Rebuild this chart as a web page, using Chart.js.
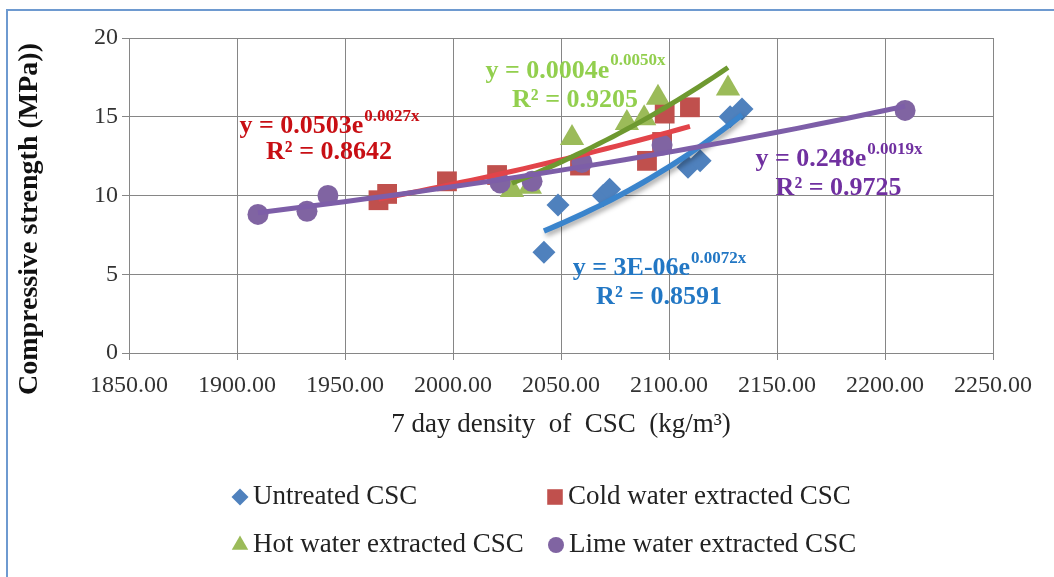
<!DOCTYPE html>
<html>
<head>
<meta charset="utf-8">
<title>Compressive strength vs 7 day density of CSC</title>
<script src="https://cdn.jsdelivr.net/npm/chart.js@4.4.1/dist/chart.umd.min.js"></script>
<style>
  html, body { margin: 0; padding: 0; background: #fff; }
  #wrap { position: relative; width: 1054px; height: 577px; overflow: hidden; background: #fff; }
  #frame { position: absolute; left: 6px; top: 9px; width: 1100px; height: 640px; border: 2px solid #6e9ad0; }
  #chart { position: absolute; left: 0; top: 0; }
</style>
</head>
<body>
<div id="wrap">
  <div id="frame"></div>
  <canvas id="chart" width="1054" height="577"></canvas>
</div>
<script>
// 7 day density (kg/m3) and compressive strength (MPa) per CSC treatment
const untreatedX = [2042.1, 2048.6, 2069.5, 2072.5, 2108.8, 2114.4, 2128.3, 2133.8];
const untreatedY = [6.4, 9.4, 10.0, 10.4, 11.8, 12.2, 15.0, 15.5];

const coldX = [1965.5, 1969.5, 1997.2, 2020.4, 2058.8, 2089.8, 2096.8, 2098.0, 2109.7];
const coldY = [9.7, 10.1, 10.9, 11.3, 11.9, 12.2, 13.4, 15.2, 15.6];

const hotX = [2027.3, 2035.6, 2055.1, 2080.5, 2088.5, 2094.9, 2127.3];
const hotY = [10.35, 10.55, 13.65, 14.6, 14.9, 16.2, 16.8];

const limeX = [1909.7, 1932.4, 1942.1, 2021.8, 2036.6, 2059.7, 2096.8, 2209.3];
const limeY = [8.8, 9.0, 10.0, 10.8, 10.9, 12.1, 13.2, 15.4];

const seriesNames = ['Untreated CSC', 'Cold water extracted CSC', 'Hot water extracted CSC', 'Lime water extracted CSC'];

// trendline equations as printed next to each fit
const eqBase = ['y = 3E-06e', 'y = 0.0503e', 'y = 0.0004e', 'y = 0.248e'];
const eqPower = ['0.0072x', '0.0027x', '0.0050x', '0.0019x'];
const eqR2 = ['R² = 0.8591', 'R² = 0.8642', 'R² = 0.9205', 'R² = 0.9725'];

const xTicksMin = 1850, xTicksMax = 2250, xStep = 50;
const yTicksMin = 0, yTicksMax = 20, yStep = 5;

const xTitle = '7 day density  of  CSC  (kg/m³)';
const yTitle = 'Compressive strength (MPa))';

const markerColors = ['#4f81bd', '#c0504d', '#9bbb59', '#8064a2'];
const trendColors = ['#3a84cc', '#e2444a', '#6e9930', '#7d5ea8'];
const eqColors = ['#2277c4', '#c80f14', '#92cf4e', '#7030a0'];
const markerStyles = ['rectRot', 'rect', 'triangle', 'circle'];
const markerSizes = [11.5, 14, 14, 10.5];
const legendSizes = [8.5, 11, 9.5, 8];

// where each equation block sits (data coords: centre x, line 1 y, line 2 y)
const eqPlace = [
  { x: 2095.4, y1: 5.35, y2: 3.55 },
  { x: 1942.6, y1: 14.4, y2: 12.75 },
  { x: 2056.5, y1: 17.9, y2: 16.05 },
  { x: 2178.5, y1: 12.3, y2: 10.45 }
];

function toPoints(xs, ys) {
  return xs.map((x, i) => ({ x: x, y: ys[i] }));
}

// least squares fit of ln(y) = ln(a) + b x, sampled across the series range
function expTrend(xs, ys) {
  const n = xs.length;
  const ly = ys.map(Math.log);
  const mx = xs.reduce((s, v) => s + v, 0) / n;
  const my = ly.reduce((s, v) => s + v, 0) / n;
  let sxy = 0, sxx = 0;
  for (let i = 0; i < n; i++) {
    sxy += (xs[i] - mx) * (ly[i] - my);
    sxx += (xs[i] - mx) * (xs[i] - mx);
  }
  const b = sxy / sxx;
  const a = Math.exp(my - b * mx);
  const lo = Math.min(...xs), hi = Math.max(...xs);
  const pts = [];
  for (let i = 0; i <= 30; i++) {
    const x = lo + (hi - lo) * i / 30;
    pts.push({ x: x, y: a * Math.exp(b * x) });
  }
  return pts;
}

const allX = [untreatedX, coldX, hotX, limeX];
const allY = [untreatedY, coldY, hotY, limeY];

const datasets = [];
allX.forEach((xs, i) => {
  datasets.push({
    label: seriesNames[i],
    data: toPoints(xs, allY[i]),
    showLine: false,
    pointStyle: markerStyles[i],
    pointRadius: markerSizes[i],
    pointBackgroundColor: markerColors[i],
    pointBorderWidth: 0,
    order: 8 - i
  });
});
allX.forEach((xs, i) => {
  datasets.push({
    label: seriesNames[i] + ' trend',
    data: expTrend(xs, allY[i]),
    showLine: true,
    borderColor: trendColors[i],
    borderWidth: i === 0 ? 5.5 : 5,
    pointRadius: 0,
    fill: false,
    shadow: i === 0,
    order: 4 - i
  });
});

const gridGrey = '#868686';
const tickFont = { family: 'Liberation Serif', size: 24 };

// soft drop shadow under the untreated trendline
const lineShadow = {
  id: 'lineShadow',
  beforeDatasetDraw(chart, args) {
    if (!chart.data.datasets[args.index].shadow) return;
    const c = chart.ctx;
    c.save();
    c.shadowColor = 'rgba(0,0,0,0.35)';
    c.shadowBlur = 5;
    c.shadowOffsetX = 2;
    c.shadowOffsetY = 3;
  },
  afterDatasetDraw(chart, args) {
    if (chart.data.datasets[args.index].shadow) chart.ctx.restore();
  }
};

// equation + R² text beside each fit
const equations = {
  id: 'equations',
  afterDatasetsDraw(chart) {
    const { ctx, scales } = chart;
    const big = 'bold 26px "Liberation Serif"';
    const small = 'bold 17px "Liberation Serif"';
    ctx.save();
    ctx.textBaseline = 'middle';
    eqPlace.forEach((p, i) => {
      const cx = scales.x.getPixelForValue(p.x);
      const y1 = scales.y.getPixelForValue(p.y1);
      const y2 = scales.y.getPixelForValue(p.y2);
      ctx.fillStyle = eqColors[i];
      ctx.font = big;
      const wBase = ctx.measureText(eqBase[i]).width;
      ctx.font = small;
      const wPow = ctx.measureText(eqPower[i]).width;
      const left = cx - (wBase + wPow) / 2;
      ctx.textAlign = 'left';
      ctx.font = big;
      ctx.fillText(eqBase[i], left, y1);
      ctx.font = small;
      ctx.fillText(eqPower[i], left + wBase + 1, y1 - 10);
      ctx.font = big;
      ctx.textAlign = 'center';
      ctx.fillText(eqR2[i], cx, y2);
    });
    ctx.restore();
  }
};

// rotated value-axis title, two-by-two legend under the axis title
const legendSpots = [
  { x: 240, y: 497 }, { x: 555, y: 497 },
  { x: 240, y: 545 }, { x: 556, y: 545 }
];
const frameText = {
  id: 'frameText',
  afterDraw(chart) {
    const ctx = chart.ctx;
    ctx.save();
    ctx.translate(30, 219);
    ctx.rotate(-Math.PI / 2);
    ctx.font = 'bold 28px "Liberation Serif"';
    ctx.fillStyle = '#111';
    ctx.textAlign = 'center';
    ctx.textBaseline = 'middle';
    ctx.fillText(yTitle, 0, 0);
    ctx.restore();

    ctx.save();
    ctx.font = '27px "Liberation Serif"';
    ctx.textBaseline = 'middle';
    ctx.textAlign = 'left';
    seriesNames.forEach((name, i) => {
      const s = legendSpots[i];
      ctx.fillStyle = markerColors[i];
      ctx.strokeStyle = markerColors[i];
      Chart.helpers.drawPoint(ctx, { pointStyle: markerStyles[i], radius: legendSizes[i], rotation: 0, borderWidth: 0 }, s.x, s.y);
      ctx.fillStyle = '#222';
      ctx.fillText(name, s.x + 13, s.y);
    });
    ctx.restore();
  }
};

new Chart(document.getElementById('chart'), {
  type: 'scatter',
  data: { datasets: datasets },
  options: {
    responsive: false,
    animation: false,
    events: [],
    layout: { padding: { left: 0, top: 38, right: 61, bottom: 134 } },
    plugins: { legend: { display: false }, tooltip: { enabled: false } },
    scales: {
      x: {
        type: 'linear',
        min: xTicksMin,
        max: xTicksMax,
        afterFit: s => { s.height = 90; },
        ticks: { stepSize: xStep, autoSkip: false, maxRotation: 0, padding: 11, color: '#333', font: tickFont,
                 callback: v => v.toFixed(2) },
        grid: { color: gridGrey, lineWidth: 1, tickLength: 7 },
        border: { color: gridGrey },
        title: { display: true, text: xTitle, color: '#222',
                 font: { family: 'Liberation Serif', size: 27 }, padding: { top: 0, bottom: 2 } }
      },
      y: {
        min: yTicksMin,
        max: yTicksMax,
        afterFit: s => { s.width = 129; },
        ticks: { stepSize: yStep, padding: 4, color: '#333', font: tickFont },
        grid: { color: gridGrey, lineWidth: 1, tickLength: 7 },
        border: { color: gridGrey }
      }
    }
  },
  plugins: [lineShadow, equations, frameText]
});
</script>
</body>
</html>
